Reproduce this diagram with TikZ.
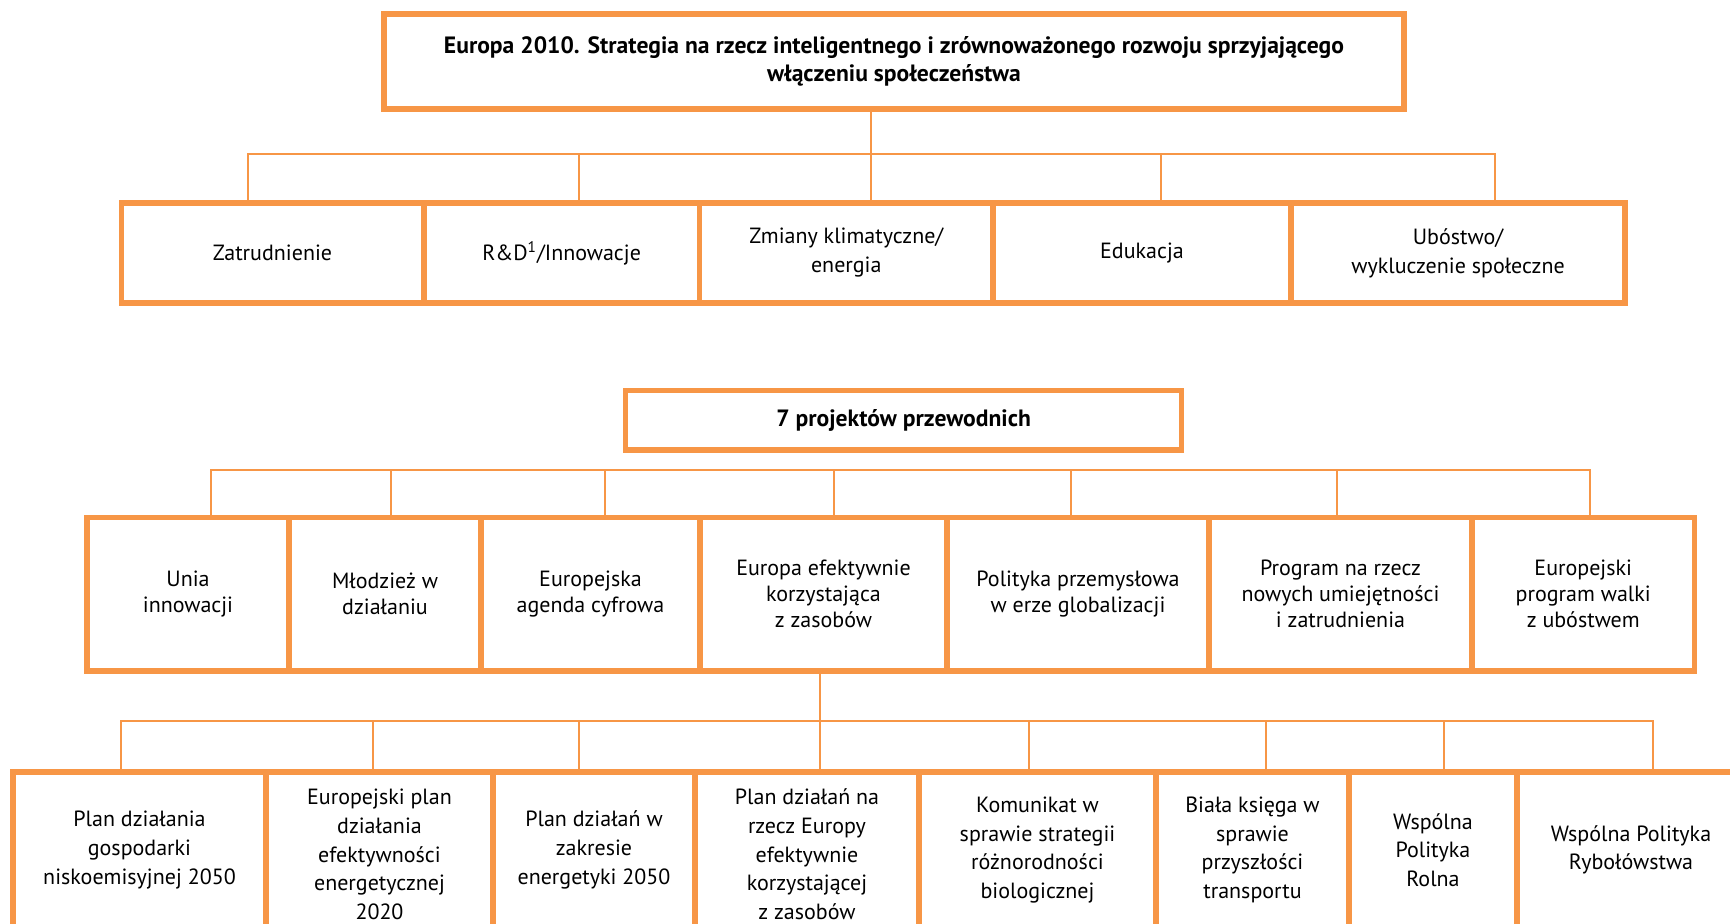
\documentclass[tikz,border=0pt]{standalone}
\usepackage{fontspec}
\setmainfont{PT Sans}
\definecolor{euorange}{HTML}{F79646}
\tikzset{
  box/.style={draw=euorange, line width=2.8pt, inner sep=0pt, align=center},
  wire/.style={draw=euorange, line width=1pt},
  head/.style={box, font=\bfseries\fontsize{11.8}{14}\selectfont},
  goal/.style={box, minimum height=50pt, font=\fontsize{11}{14.5}\selectfont},
  flag/.style={box, minimum height=76.75pt, font=\fontsize{11}{13}\selectfont},
  plan/.style={box, minimum height=78pt, font=\fontsize{11}{14.3}\selectfont},
  longplan/.style={plan, minimum height=82.4pt},
}

\begin{document}
\begin{tikzpicture}[x=0.5pt, y=-0.5pt]
        \useasboundingbox (0,0) rectangle (1730,924);
        \clip (0,0) rectangle (1730,924);
        % Strategy and its five goals:
        \node[head, minimum width=510pt, minimum height=47.5pt](top) at (894, 61.5){Europa 2010. Strategia na rzecz inteligentnego i zrównoważonego rozwoju sprzyjającego\\włączeniu społeczeństwa};
        \node[goal, minimum width=151.2pt](g1) at (272.5, 253){Zatrudnienie};
        \node[goal, minimum width=137.9pt](g2) at (561.6, 253){R\&D\textsuperscript{1}/Innowacje};
        \node[goal, minimum width=146.8pt](g3) at (846.3, 253){Zmiany klimatyczne/\\energia};
        \node[goal, minimum width=149pt](g4) at (1142, 253){Edukacja};
        \node[goal, minimum width=167pt](g5) at (1458, 253){Ubóstwo/\\wykluczenie społeczne};
        \coordinate (b1) at ([xshift=-11.5pt, yshift=-21.35pt]top.south);
        \draw[wire] (top.south -| b1) -- (b1);
        \foreach \n/\dx in {g1/-12.25pt, g2/8.5pt, g3/12.35pt, g4/9.5pt, g5/18.3pt}
            \draw[wire] ([xshift=\dx]\n.north) |- (b1);
        % Flagship initiatives:
        \node[head, minimum width=278pt, minimum height=29.7pt](p) at (903.6, 420.3){7 projektów przewodnich};
        \node[flag, minimum width=101pt](f1) at (188, 594.3){Unia\\innowacji};
        \node[flag, minimum width=96pt](f2) at (385, 594.3){Młodzież w\\działaniu};
        \node[flag, minimum width=109.5pt](f3) at (590.5, 594.3){Europejska\\agenda cyfrowa};
        \node[flag, minimum width=123.5pt](f4) at (823.5, 594.3){Europa efektywnie\\korzystająca\\z zasobów};
        \node[flag, minimum width=131pt](f5) at (1078, 594.3){Polityka przemysłowa\\w erze globalizacji};
        \node[flag, minimum width=131.5pt](f6) at (1340.5, 594.3){Program na rzecz\\nowych umiejętności\\i zatrudnienia};
        \node[flag, minimum width=111.25pt](f7) at (1583.25, 594.3){Europejski\\program walki\\z ubóstwem};
        \coordinate (b2) at ([yshift=-8.85pt]p.south);
        \foreach \n/\dx in {f1/11.5pt, f2/3pt, f3/7.1pt, f4/5.1pt, f5/-3.75pt, f6/-1.9pt, f7/3.25pt}
            \draw[wire] ([xshift=\dx]\n.north) |- (b2);
        % Action plans under the resource efficient Europe:
        \node[plan, minimum width=126.5pt](a1) at (139.5, 850){Plan działania\\gospodarki\\niskoemisyjnej 2050};
        \node[longplan, minimum width=113.5pt](a2) at (379.5, 854.4){Europejski plan\\działania\\efektywności\\energetycznej\\2020};
        \node[plan, minimum width=101pt](a3) at (594, 850){Plan działań w\\zakresie\\energetyki 2050};
        \node[longplan, minimum width=112pt](a4) at (807, 854.4){Plan działań na\\rzecz Europy\\efektywnie\\korzystającej\\z zasobów};
        \node[plan, minimum width=118.5pt](a5) at (1037.5, 850){Komunikat w\\sprawie strategii\\różnorodności\\biologicznej};
        \node[plan, minimum width=96.5pt](a6) at (1252.5, 850){Biała księga w\\sprawie\\przyszłości\\transportu};
        \node[plan, minimum width=84pt](a7) at (1433, 850){Wspólna\\Polityka\\Rolna};
        \node[plan, minimum width=114pt](a8) at (1631, 850){Wspólna Polityka\\Rybołówstwa};
        \coordinate (b3) at ([xshift=-1.75pt, yshift=-23.6pt]f4.south);
        \draw[wire] (f4.south -| b3) -- (b3);
        \foreach \n/\dx in {a1/-9.5pt, a2/-3.25pt, a3/-7.5pt, a4/6.5pt, a5/-4.5pt, a6/6.5pt, a7/5.5pt, a8/10.75pt}
            \draw[wire] ([xshift=\dx]\n.north) |- (b3);
    \end{tikzpicture}
\end{document}
